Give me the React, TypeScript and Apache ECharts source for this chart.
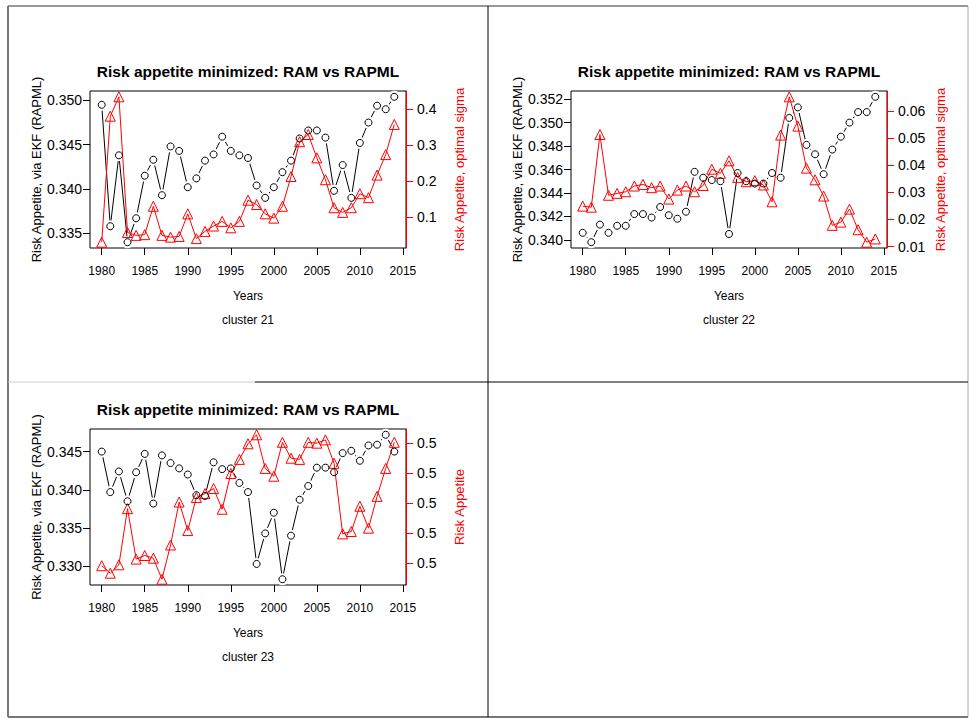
import React, { useEffect, useRef } from "react";
import * as echarts from "echarts";

const years: number[] = Array.from({ length: 35 }, (_, i) => 1980 + i);
const xTicks = [1980, 1985, 1990, 1995, 2000, 2005, 2010, 2015];

const ram21 = [0.3495, 0.3358, 0.3438, 0.334, 0.3367, 0.3415, 0.3433, 0.3393, 0.3448, 0.3443, 0.3402, 0.3412, 0.3432, 0.3439, 0.3459, 0.3443, 0.3438, 0.3435, 0.3404, 0.339, 0.3402, 0.3419, 0.3432, 0.3457, 0.3466, 0.3466, 0.3458, 0.3398, 0.3427, 0.339, 0.3452, 0.3475, 0.3494, 0.349, 0.3504];
const sig21 = [0.03, 0.381, 0.435, 0.057, 0.049, 0.051, 0.13, 0.049, 0.044, 0.046, 0.109, 0.04, 0.06, 0.075, 0.088, 0.07, 0.088, 0.147, 0.135, 0.109, 0.097, 0.13, 0.213, 0.31, 0.33, 0.265, 0.204, 0.126, 0.113, 0.126, 0.165, 0.154, 0.217, 0.274, 0.358];

const ram22 = [0.3406, 0.3398, 0.3413, 0.3406, 0.3412, 0.3412, 0.3422, 0.3422, 0.3419, 0.3428, 0.3421, 0.3418, 0.3424, 0.3458, 0.3453, 0.3451, 0.345, 0.3405, 0.3457, 0.345, 0.3448, 0.3448, 0.3457, 0.3453, 0.3504, 0.3513, 0.3481, 0.3473, 0.3456, 0.3477, 0.3488, 0.35, 0.3509, 0.3509, 0.3522];
const sig22 = [0.0249, 0.0245, 0.0513, 0.0289, 0.0296, 0.0302, 0.0323, 0.0329, 0.0317, 0.0323, 0.0275, 0.0308, 0.0323, 0.0302, 0.0325, 0.0385, 0.037, 0.0416, 0.0355, 0.0339, 0.0343, 0.0327, 0.0265, 0.0511, 0.0652, 0.0544, 0.0389, 0.0346, 0.0286, 0.0178, 0.019, 0.0238, 0.0162, 0.0116, 0.0128];

const ram23 = [0.345, 0.3397, 0.3424, 0.3385, 0.3423, 0.3447, 0.3382, 0.3445, 0.3435, 0.3428, 0.342, 0.3393, 0.3392, 0.3436, 0.3427, 0.3428, 0.3409, 0.3397, 0.3303, 0.3343, 0.337, 0.3283, 0.334, 0.3387, 0.3405, 0.3429, 0.3429, 0.3423, 0.3448, 0.3451, 0.3438, 0.3458, 0.3459, 0.3472, 0.345];
const ra23 = [0.499791, 0.499766, 0.499794, 0.499981, 0.499813, 0.499825, 0.499816, 0.499746, 0.49986, 0.500003, 0.499908, 0.500018, 0.500031, 0.500048, 0.499979, 0.500098, 0.500145, 0.500197, 0.500227, 0.500115, 0.500089, 0.500202, 0.500149, 0.500145, 0.500202, 0.500199, 0.50021, 0.500132, 0.499897, 0.499905, 0.499989, 0.499916, 0.500022, 0.500115, 0.500202];

const leftTicks21 = [0.335, 0.34, 0.345, 0.35];
const rightTicks21 = [0.1, 0.2, 0.3, 0.4];
const leftTicks22 = [0.34, 0.342, 0.344, 0.346, 0.348, 0.35, 0.352];
const rightTicks22 = [0.01, 0.02, 0.03, 0.04, 0.05, 0.06];
const leftTicks23 = [0.33, 0.335, 0.34, 0.345];
const rightTicks23 = [0.4998, 0.4999, 0.5, 0.5001, 0.5002];

const titleText = "Risk appetite minimized: RAM vs RAPML";
const leftName = "Risk Appetite, via EKF (RAPML)";
const clusterNames = ["cluster 21", "cluster 22", "cluster 23"];
const rightNames = ["Risk Appetite, optimal sigma", "Risk Appetite, optimal sigma", "Risk Appetite"];

const FONT = "'Liberation Sans', Arial, sans-serif";

function ext(a: number[]): [number, number] {
  const mn = Math.min(...a);
  const mx = Math.max(...a);
  const d = (mx - mn) * 0.04;
  return [mn - d, mx + d];
}

const panels = [
  { left: 90, top: 91, width: 316, height: 157, ram: ram21, sig: sig21, lt: leftTicks21, rt: rightTicks21, lf: 3, rf: 1 },
  { left: 571, top: 91, width: 316, height: 157, ram: ram22, sig: sig22, lt: leftTicks22, rt: rightTicks22, lf: 3, rf: 2 },
  { left: 90, top: 429, width: 316, height: 156, ram: ram23, sig: ra23, lt: leftTicks23, rt: rightTicks23, lf: 3, rf: 1 },
];

export default function App() {
  const ref = useRef<HTMLDivElement>(null);
  useEffect(() => {
    if (!ref.current) return;
    const chart = echarts.init(ref.current, undefined, { renderer: "svg" });
    const xr = ext(years);
    const grid: any[] = [];
    const xAxis: any[] = [];
    const yAxis: any[] = [];
    const series: any[] = [];
    const graphic: any[] = [];

    panels.forEach((p, i) => {
      grid.push({ left: p.left, top: p.top, width: p.width, height: p.height, show: true, borderColor: "#000", borderWidth: 1, backgroundColor: "transparent" });
      xAxis.push({
        type: "value", gridIndex: i, min: xr[0], max: xr[1],
        splitLine: { show: false }, axisLine: { show: false },
        axisTick: { show: true, length: 7, customValues: xTicks, lineStyle: { color: "#000" } },
        axisLabel: { customValues: xTicks, color: "#000", fontSize: 12, fontFamily: FONT, margin: 17, formatter: (v: number) => String(Math.round(v)) },
        name: "Years", nameLocation: "middle", nameGap: 42,
        nameTextStyle: { color: "#000", fontSize: 12, fontFamily: FONT },
      });
      const lr = ext(p.ram);
      const rr = ext(p.sig);
      yAxis.push({
        type: "value", gridIndex: i, position: "left", min: lr[0], max: lr[1],
        splitLine: { show: false }, axisLine: { show: false },
        axisTick: { show: true, length: 7, customValues: p.lt, lineStyle: { color: "#000" } },
        axisLabel: { customValues: p.lt, color: "#000", fontSize: 14, fontFamily: FONT, margin: 8, formatter: (v: number) => v.toFixed(p.lf) },
        name: leftName, nameLocation: "middle", nameRotate: 90, nameGap: 45,
        nameTextStyle: { color: "#000", fontSize: 13, fontFamily: FONT },
      });
      yAxis.push({
        type: "value", gridIndex: i, position: "right", min: rr[0], max: rr[1],
        splitLine: { show: false }, axisLine: { show: true, lineStyle: { color: "#f00" } },
        axisTick: { show: true, length: 7, customValues: p.rt, lineStyle: { color: "#f00" } },
        axisLabel: { customValues: p.rt, color: "#000", fontSize: 14, fontFamily: FONT, margin: 11, formatter: (v: number) => v.toFixed(p.rf) },
        name: rightNames[i], nameLocation: "middle", nameRotate: 90, nameGap: 47,
        nameTextStyle: { color: "#f00", fontSize: 13, fontFamily: FONT },
      });
      const ramData = years.map((y, k) => [y, p.ram[k]]);
      const sigData = years.map((y, k) => [y, p.sig[k]]);
      series.push({ type: "line", z: 2, xAxisIndex: i, yAxisIndex: 2 * i, data: ramData, symbol: "none", silent: true, lineStyle: { color: "#000", width: 1 } });
      series.push({ type: "scatter", z: 3, xAxisIndex: i, yAxisIndex: 2 * i, data: ramData, symbol: "circle", symbolSize: 12, silent: true, itemStyle: { color: "#ffffff", opacity: 1 } });
      series.push({ type: "line", z: 4, xAxisIndex: i, yAxisIndex: 2 * i + 1, data: sigData, symbol: "triangle", symbolSize: 10, showSymbol: true, showAllSymbol: true, lineStyle: { color: "#f00", width: 1 }, itemStyle: { color: "rgba(0,0,0,0)", borderColor: "#f00", borderWidth: 1 } });
      series.push({ type: "scatter", z: 5, xAxisIndex: i, yAxisIndex: 2 * i, data: ramData, symbol: "circle", symbolSize: 7, itemStyle: { color: "rgba(0,0,0,0)", borderColor: "#000", borderWidth: 1, opacity: 1 } });

      const cx = p.left + p.width / 2;
      graphic.push({ type: "text", x: cx, y: p.top - 20, style: { text: titleText, textAlign: "center", textVerticalAlign: "middle", fill: "#000", font: `bold 15.5px ${FONT}` } });
      graphic.push({ type: "text", x: cx, y: p.top + p.height + 72, style: { text: clusterNames[i], textAlign: "center", textVerticalAlign: "middle", fill: "#000", font: `12px ${FONT}` } });
    });

    const ln = (x1: number, y1: number, x2: number, y2: number, c: string, w: number) => ({ type: "line", shape: { x1, y1, x2, y2 }, style: { stroke: c, lineWidth: w } });
    graphic.push(ln(8, 6, 968, 6, "#333", 1));
    graphic.push(ln(8, 6, 8, 717, "#777", 2));
    graphic.push(ln(968, 6, 968, 717, "#aaa", 1));
    graphic.push(ln(8, 717, 968, 717, "#777", 2));
    graphic.push(ln(488, 6, 488, 717, "#000", 1));
    graphic.push(ln(8, 382, 255, 382, "#ccc", 1));
    graphic.push(ln(255, 382, 968, 382, "#000", 1));

    chart.setOption({
      animation: false,
      backgroundColor: "#fff",
      textStyle: { fontFamily: FONT },
      grid, xAxis, yAxis, series, graphic,
    });
    return () => chart.dispose();
  }, []);
  return <div ref={ref} style={{ position: "absolute", left: 0, top: 0, width: 969, height: 719 }} />;
}
